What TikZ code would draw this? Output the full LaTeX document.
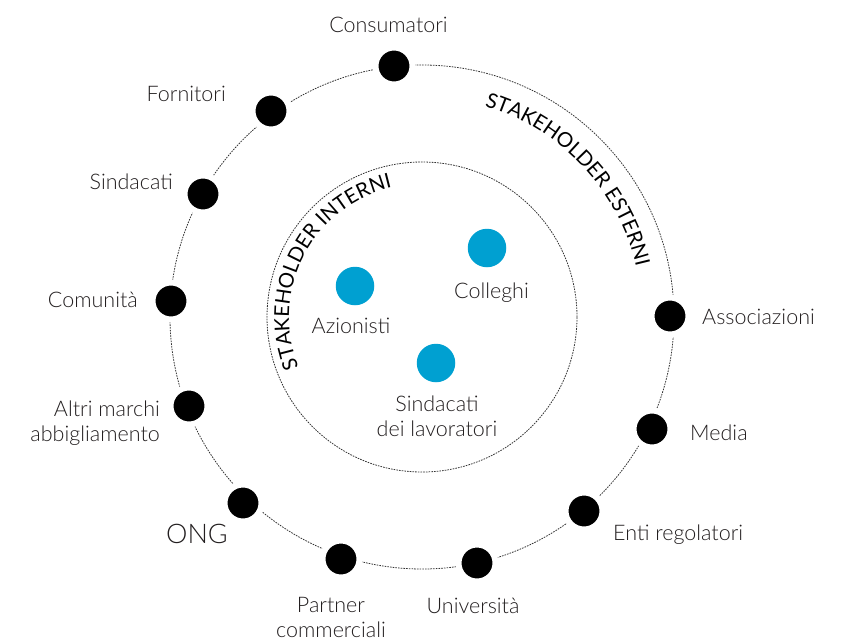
\documentclass[tikz,border=0pt]{standalone}
\usepackage{fontspec}
\setmainfont{Lato}[UprightFont=* Light]
\newfontfamily\arcfont{Lato}
\usetikzlibrary{decorations.text}
\definecolor{txt}{HTML}{231F20}
\definecolor{bluedot}{HTML}{00A0D1}
\definecolor{ringc}{HTML}{333333}
\begin{document}
\begin{tikzpicture}[x=1pt,y=1pt,
  lbl/.style={font=\fontsize{21.5}{24.5}\selectfont, text=txt, inner sep=0pt},
  extdot/.style={circle, fill=black, draw=white, line width=6pt, minimum size=37pt, inner sep=0pt},
  intdot/.style={circle, fill=bluedot, minimum size=38.5pt, inner sep=0pt},
  ring/.style={draw=ringc, line width=0.8pt, dash pattern=on 1.6pt off 1.1pt}]
\useasboundingbox (0,0) rectangle (850,-642);
\coordinate (C) at (422,-317);
\draw[ring] (C) circle[radius=252];
\draw[ring] (C) circle[radius=155];

% arc texts
\path[decorate, decoration={text along path, text align=center,
  text={|\arcfont\fontsize{20.5}{20.5}\selectfont\color{black}|STAKEHOLDER ESTERNI}}]
  ([shift={(83.3:220)}]C) arc[start angle=83.3, end angle=3.3, radius=220];
\path[decorate, decoration={text along path, text align=center,
  text={|\arcfont\fontsize{20.5}{20.5}\selectfont\color{black}|STAKEHOLDER INTERNI}}]
  ([shift={(212.5:133)}]C) arc[start angle=212.5, end angle=92.5, radius=133];

% external dots
\node[extdot] (consumatori) at (394,-66) {};
\node[extdot] (fornitori) at (271,-111) {};
\node[extdot] (sindacati) at (203,-194) {};
\node[extdot] (comunita) at (171,-301) {};
\node[extdot] (altri) at (189,-406) {};
\node[extdot] (ong) at (243,-503) {};
\node[extdot] (partner) at (341,-559) {};
\node[extdot] (universita) at (477,-563) {};
\node[extdot] (enti) at (584,-511) {};
\node[extdot] (media) at (652,-429) {};
\node[extdot] (associazioni) at (670,-316) {};

% internal dots
\node[intdot] (colleghi) at (487,-248) {};
\node[intdot] (azionisti) at (355,-286) {};
\node[intdot] (sindlav) at (436,-363) {};

% labels
\node[lbl, anchor=base] (lconsumatori) at (388.5,-33) {Consumatori};
\node[lbl, anchor=base east] (lfornitori) at (226,-101) {Fornitori};
\node[lbl, anchor=base east] (lsindacati) at (173,-189) {Sindacati};
\node[lbl, anchor=base east] (lcomunita) at (138,-307) {Comunità};
\node[lbl, anchor=base east, align=right] (laltri) at (160,-441) {Altri marchi\\abbigliamento};
\node[lbl, anchor=base east, font=\fontsize{27}{30}\selectfont] (long) at (228,-543) {ONG};
\node[lbl, anchor=base, align=center] (lpartner) at (331,-637) {Partner\\commerciali};
\node[lbl, anchor=base] (luniversita) at (473,-613) {Università};
\node[lbl, anchor=base west] (lenti) at (613,-540) {Enti regolatori};
\node[lbl, anchor=base west] (lmedia) at (690,-440) {Media};
\node[lbl, anchor=base west] (lassociazioni) at (702,-324) {Associazioni};
\node[lbl, anchor=base] (lcolleghi) at (491.5,-298) {Colleghi};
\node[lbl, anchor=base] (lazionisti) at (351,-333) {Azionisti};
\node[lbl, anchor=base, align=center] (lsindlav) at (437,-436) {Sindacati\\dei lavoratori};
\end{tikzpicture}
\end{document}
